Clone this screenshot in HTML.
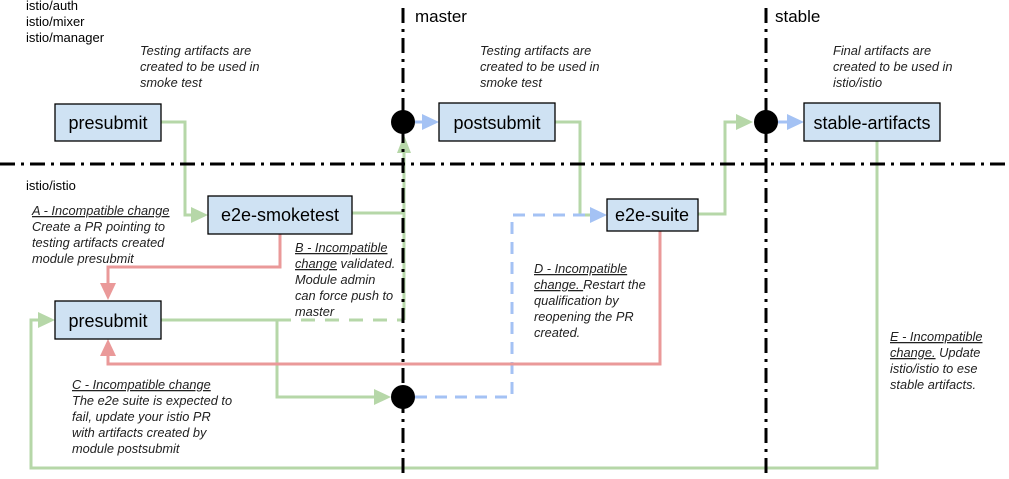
<!DOCTYPE html>
<html><head><meta charset="utf-8"><style>
html,body{margin:0;padding:0;background:#fff;}
svg{display:block;font-family:"Liberation Sans",Arial,sans-serif;}
.n{font-size:18px;fill:#000;}
.l{font-size:13px;fill:#000;}
.i{font-size:12.8px;font-style:italic;fill:#222;}
.box{fill:#cfe2f3;stroke:#000;stroke-width:1.3;}
.g{stroke:#b6d7a8;stroke-width:3;fill:none;}
.r{stroke:#ea9999;stroke-width:3;fill:none;}
.b{stroke:#a4c2f4;stroke-width:3;fill:none;}
.dd{stroke:#000;stroke-width:3;fill:none;stroke-dasharray:15 6 3 6;}
</style></head><body>
<svg width="1009" height="479" viewBox="0 0 1009 479" xmlns="http://www.w3.org/2000/svg">
<polyline class="g" points="161,122 185,122 185,215 194,215"/>
<polygon points="208,215 191,207 191,223" fill="#b6d7a8"/>
<polyline class="g" points="352,213 404,213"/>
<polyline class="g" points="404,320 404,150"/>
<polygon points="404,135 397,153 411,153" fill="#b6d7a8"/>
<polyline class="g" points="161,320 277,320 277,397 376,397"/>
<polygon points="391,397 374,389 374,405" fill="#b6d7a8"/>
<polyline class="g" points="277,320 404,320" stroke-dasharray="14 10"/>
<polyline class="g" points="555,122 580,122 580,215 592,215"/>
<polygon points="607,215 590,207 590,223" fill="#a4c2f4"/>
<polyline class="g" points="698,214 725,214 725,122 738,122"/>
<polygon points="753,122 736,114 736,130" fill="#b6d7a8"/>
<polyline class="g" points="877,141 877,468 31,468 31,320 40,320"/>
<polygon points="55,320 38,312 38,328" fill="#b6d7a8"/>
<polyline class="b" points="415,122 426,122"/>
<polygon points="439,122 422,114 422,130" fill="#a4c2f4"/>
<polyline class="b" points="778,122 790,122"/>
<polygon points="804,122 787,114 787,130" fill="#a4c2f4"/>
<polyline class="b" points="415,397 512,397 512,215 590,215" stroke-dasharray="12 8"/>
<polyline class="r" points="280,234 280,267 108,267 108,288"/>
<polygon points="108,300 100,283 116,283" fill="#ea9999"/>
<polyline class="r" points="660,231 660,364 108,364 108,352"/>
<polygon points="108,339 100,356 116,356" fill="#ea9999"/>
<line class="dd" x1="0" y1="164" x2="1009" y2="164"/>
<line class="dd" x1="403" y1="8" x2="403" y2="479"/>
<line class="dd" x1="766" y1="8" x2="766" y2="479"/>
<circle cx="403" cy="122" r="12" fill="#000"/>
<circle cx="403" cy="397" r="12" fill="#000"/>
<circle cx="766" cy="122" r="12" fill="#000"/>
<rect class="box" x="55" y="104" width="106" height="37"/>
<text class="n" x="108" y="129" text-anchor="middle">presubmit</text>
<rect class="box" x="208" y="196" width="144" height="38"/>
<text class="n" x="280" y="221" text-anchor="middle">e2e-smoketest</text>
<rect class="box" x="55" y="301" width="106" height="38"/>
<text class="n" x="108" y="327" text-anchor="middle">presubmit</text>
<rect class="box" x="439" y="103" width="116" height="38"/>
<text class="n" x="497" y="129" text-anchor="middle">postsubmit</text>
<rect class="box" x="607" y="199" width="91" height="32"/>
<text class="n" x="652" y="221" text-anchor="middle">e2e-suite</text>
<rect class="box" x="804" y="103" width="136" height="38"/>
<text class="n" x="872" y="129" text-anchor="middle">stable-artifacts</text>
<text class="l" x="26" y="10">istio/auth</text>
<text class="l" x="26" y="26">istio/mixer</text>
<text class="l" x="26" y="42">istio/manager</text>
<text class="l" x="26" y="190">istio/istio</text>
<text x="415" y="22" font-size="17">master</text>
<text x="775" y="22" font-size="17">stable</text>
<g class="i">
<text x="140" y="55">Testing artifacts are</text>
<text x="140" y="71">created to be used in</text>
<text x="140" y="87">smoke test</text>
<text x="480" y="55">Testing artifacts are</text>
<text x="480" y="71">created to be used in</text>
<text x="480" y="87">smoke test</text>
<text x="833" y="55">Final artifacts are</text>
<text x="833" y="71">created to be used in</text>
<text x="833" y="87">istio/istio</text>
<text x="32" y="215" text-decoration="underline">A - Incompatible change</text>
<text x="32" y="231">Create a PR pointing to</text>
<text x="32" y="247">testing artifacts created</text>
<text x="32" y="263">module presubmit</text>
<text x="295" y="252"><tspan text-decoration="underline">B - Incompatible</tspan></text>
<text x="295" y="268"><tspan text-decoration="underline">change</tspan> validated.</text>
<text x="295" y="284">Module admin</text>
<text x="295" y="300">can force push to</text>
<text x="295" y="316">master</text>
<text x="72" y="389" text-decoration="underline">C - Incompatible change</text>
<text x="72" y="405">The e2e suite is expected to</text>
<text x="72" y="421">fail, update your istio PR</text>
<text x="72" y="437">with artifacts created by</text>
<text x="72" y="453">module postsubmit</text>
<text x="534" y="273" text-decoration="underline">D - Incompatible</text>
<text x="534" y="289"><tspan text-decoration="underline">change. </tspan>Restart the</text>
<text x="534" y="305">qualification by</text>
<text x="534" y="321">reopening the PR</text>
<text x="534" y="337">created.</text>
<text x="890" y="341" text-decoration="underline">E - Incompatible</text>
<text x="890" y="357"><tspan text-decoration="underline">change.</tspan> Update</text>
<text x="890" y="373">istio/istio to ese</text>
<text x="890" y="389">stable artifacts.</text>
</g>
</svg>
</body></html>
